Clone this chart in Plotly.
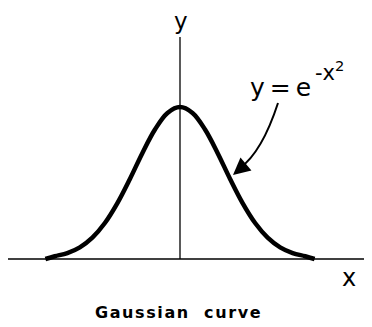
import plotly.graph_objects as go

# heights (y = e^(-x^2)), peak = 1
curve_x = [-2.15, -2.0, -1.8, -1.6, -1.4, -1.2, -1.0, -0.8, -0.6, -0.4, -0.2, 0.0,
           0.2, 0.4, 0.6, 0.8, 1.0, 1.2, 1.4, 1.6, 1.8, 2.0, 2.15]
curve_y = [0.0, 0.018, 0.039, 0.077, 0.141, 0.237, 0.368, 0.527, 0.698, 0.852, 0.961, 1.0,
           0.961, 0.852, 0.698, 0.527, 0.368, 0.237, 0.141, 0.077, 0.039, 0.018, 0.0]

# axis extents
x_axis = [-2.8, 3.2]
y_axis = [0.0, 1.46]

# the page body has an 8px margin, so the figure sits at (8, 8)
OFF = 8
W, H = 372 - OFF, 327 - OFF
XS, YS = 62.6, 152  # px per unit
x_range = [-172 / XS, (W - 172) / XS]
y_range = [-(H - 251) / YS, 251 / YS]


def px(x, y):
    """reference pixel position -> data coordinates"""
    x, y = x - OFF, y - OFF
    xd = x_range[0] + x / W * (x_range[1] - x_range[0])
    yd = y_range[1] - y / H * (y_range[1] - y_range[0])
    return xd, yd


fig = go.Figure()

# axes
fig.add_trace(go.Scatter(x=x_axis, y=[0, 0], mode="lines",
                         line=dict(color="black", width=1.7), hoverinfo="skip"))
fig.add_trace(go.Scatter(x=[0, 0], y=y_axis, mode="lines",
                         line=dict(color="black", width=1.3), hoverinfo="skip"))

# gaussian
fig.add_trace(go.Scatter(x=curve_x, y=curve_y, mode="lines",
                         line=dict(color="black", width=4.5, shape="spline", smoothing=1)))

# curved pointer from the formula to the curve
x0, y0 = px(278, 103)
xc, yc = px(262, 152)
x1, y1 = px(240, 168)
fig.add_shape(type="path", xref="x", yref="y",
              path=f"M {x0},{y0} Q {xc},{yc} {x1},{y1}",
              line=dict(color="black", width=2))
tx, ty = px(233, 175)
fig.add_annotation(x=tx, y=ty, xref="x", yref="y", ax=13, ay=-11, text=" ",
                   showarrow=True, arrowhead=2, arrowsize=1.7, arrowwidth=2, arrowcolor="black")

font = "DejaVu Sans"
lx, ly = px(181, 20.5)
fig.add_annotation(x=lx, y=ly, text="y", showarrow=False,
                   font=dict(family=font, size=23, color="black"))
lx, ly = px(349, 277.5)
fig.add_annotation(x=lx, y=ly, text="x", showarrow=False,
                   font=dict(family=font, size=24, color="black"))
# formula y = e^(-x^2)
lx, ly = px(313, 87)
fig.add_annotation(x=lx, y=ly, xanchor="right", showarrow=False,
                   text="y\u2009=\u2009e",
                   font=dict(family=font, size=25, color="black"))
lx, ly = px(313, 71)
fig.add_annotation(x=lx, y=ly, xanchor="left", showarrow=False,
                   text="-x<sup>2</sup>",
                   font=dict(family=font, size=21, color="black"))
hs = "\u200a"
lx, ly = px(178, 312)
fig.add_annotation(x=lx, y=ly, text=hs.join("Gaussian") + hs * 3 + "  " + hs.join("curve"),
                   showarrow=False,
                   font=dict(family=font, size=16, color="black", weight="bold"))

fig.update_layout(
    width=W, height=H,
    margin=dict(t=0, l=0, b=0, r=0),
    paper_bgcolor="white", plot_bgcolor="white",
    showlegend=False,
    xaxis=dict(visible=False, range=x_range, fixedrange=True),
    yaxis=dict(visible=False, range=y_range, fixedrange=True),
)

fig.write_html("out.html")
